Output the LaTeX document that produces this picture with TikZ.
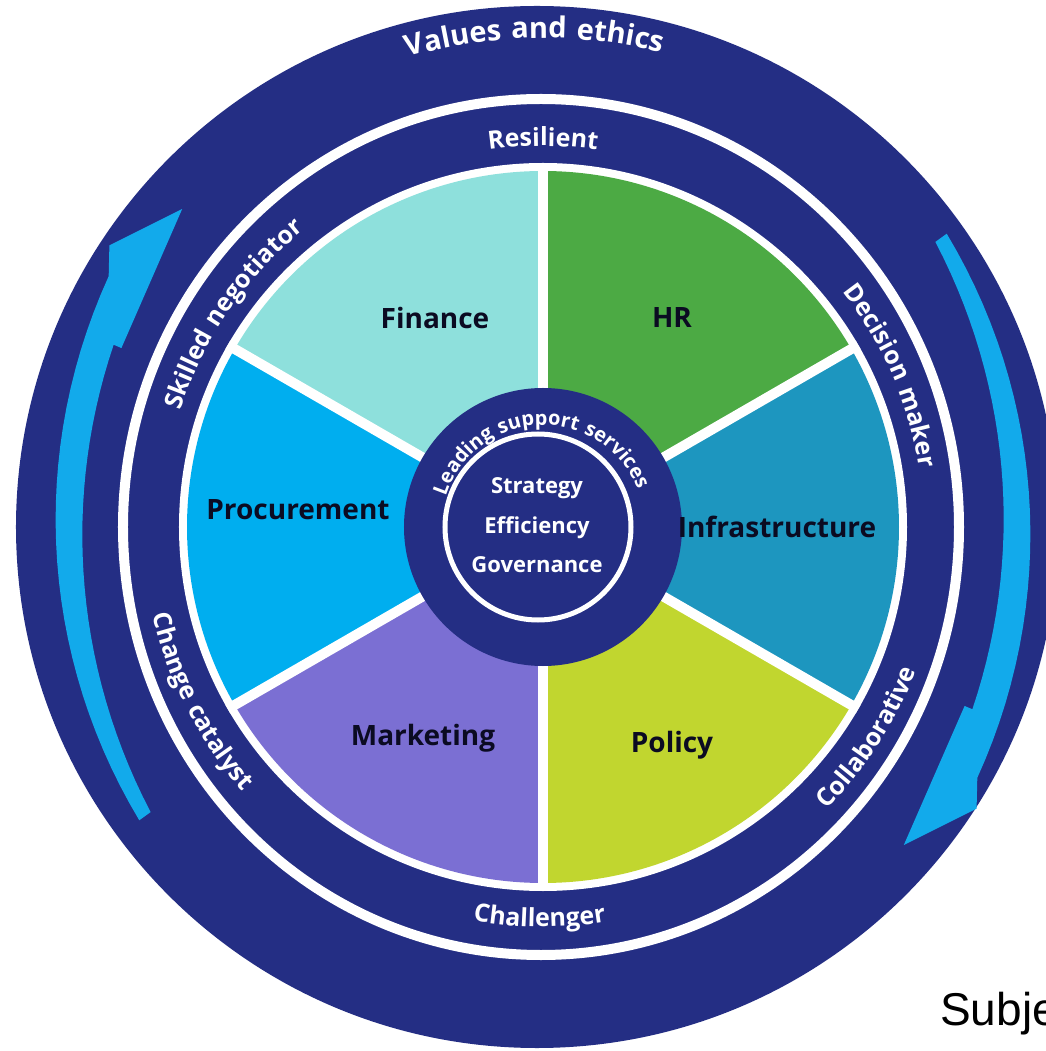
\documentclass[tikz,border=0pt]{standalone}
\usepackage{fontspec}
\setmainfont{Open Sans}
\newfontfamily\ringfont{Open Sans}[LetterSpace=7]
\newfontfamily\notefont{Liberation Sans}
\usetikzlibrary{decorations.text}

\definecolor{navy}{HTML}{242E84}
\definecolor{arrowblue}{HTML}{12AAEB}
\definecolor{finance}{HTML}{8EE0DC}
\definecolor{hr}{HTML}{4CAA44}
\definecolor{infra}{HTML}{1D96BF}
\definecolor{policy}{HTML}{C1D62F}
\definecolor{market}{HTML}{7B6FD3}
\definecolor{procure}{HTML}{00AEEF}
\definecolor{ink}{HTML}{0B0B22}

\begin{document}
\begin{tikzpicture}[x=1pt, y=1pt,
  sector/.style={font=\bfseries\fontsize{28}{28}\selectfont, text=ink},
  core/.style={font=\bfseries\fontsize{22}{22}\selectfont, text=white},
  ringtext/.style 2 args={decorate, decoration={text along path, text align=center,
    text color=white, text={|\ringfont\bfseries\fontsize{#1}{#1}\selectfont|#2}}}]
  \useasboundingbox (-543,-524) rectangle (502,527);
  \fill[white] (-543,-524) rectangle (502,527);

  % outer band with the white ring
  \fill[navy] (-6,0) circle[radius=521];
  \draw[white, line width=10] (-2,0) ellipse[x radius=418, y radius=428];

  % curved arrows, both running clockwise; the shaft thins towards the tail
  \foreach \r in {0,180}
    \fill[arrowblue, rotate=\r]
      plot[domain=216:157, samples=30] (\x:{474+0.0139*(\x-180)^2-15+8*((\x-150)/66)^2})
      -- (157:458) -- (138.6:481) -- (147:517) -- (150:501.5)
      -- plot[domain=150:216, samples=30] (\x:{474+0.0139*(\x-180)^2+15-8*((\x-150)/66)^2})
      -- cycle;

  % the six sectors
  \fill[white] (0,0) circle[radius=364];
  \foreach \a/\col in {30/hr, 90/finance, 150/procure, 210/market, 270/policy, 330/infra}
    \fill[\col] (0,0) -- (\a:356) arc[start angle=\a, end angle=\a+60, radius=356] -- cycle;
  \foreach \a in {30,90,...,330}
    \draw[white, line width=10] (0,0) -- (\a:364);

  % hub
  \fill[navy] (0,0) circle[radius=139];
  \draw[white, line width=5] (-5,0) circle[radius=93];

  \node[sector] (finance) at (-108,209) {Finance};
  \node[sector] (hr) at (129,209) {HR};
  \node[sector] (infra) at (234,0) {Infrastructure};
  \node[sector] (policy) at (129,-218) {Policy};
  \node[sector] (marketing) at (-120,-211) {Marketing};
  \node[sector] (procurement) at (-245,17) {Procurement};

  \node[core] (strategy) at (-6,39) {Strategy};
  \node[core] (efficiency) at (-6,-1) {Efficiency};
  \node[core] (governance) at (-6,-38) {Governance};

  % words round the rings
  \path[ringtext={20}{Leading support services}] (262:102) arc[start angle=262, end angle=-78, radius=102];
  \path[ringtext={29}{Values and ethics}] (131:489) arc[start angle=131, end angle=51, radius=489];
  \path[ringtext={25}{Resilient}] (120:381) arc[start angle=120, end angle=60, radius=381];
  \path[ringtext={25}{Skilled negotiator}] (175.5:381) arc[start angle=175.5, end angle=115.5, radius=381];
  \path[ringtext={25}{Decision maker}] (53.5:381) arc[start angle=53.5, end angle=-6.5, radius=381];
  \path[ringtext={25}{Challenger}] (-130.5:400) arc[start angle=-130.5, end angle=-50.5, radius=400];
  \path[ringtext={25}{Collaborative}] (-73:400) arc[start angle=-73, end angle=7, radius=400];
  \path[ringtext={25}{Change catalyst}] (167:400) arc[start angle=167, end angle=247, radius=400];

  \node[anchor=base west, inner sep=0, font=\notefont\fontsize{46}{46}\selectfont] (subject) at (397,-498) {Subje};
\end{tikzpicture}
\end{document}
